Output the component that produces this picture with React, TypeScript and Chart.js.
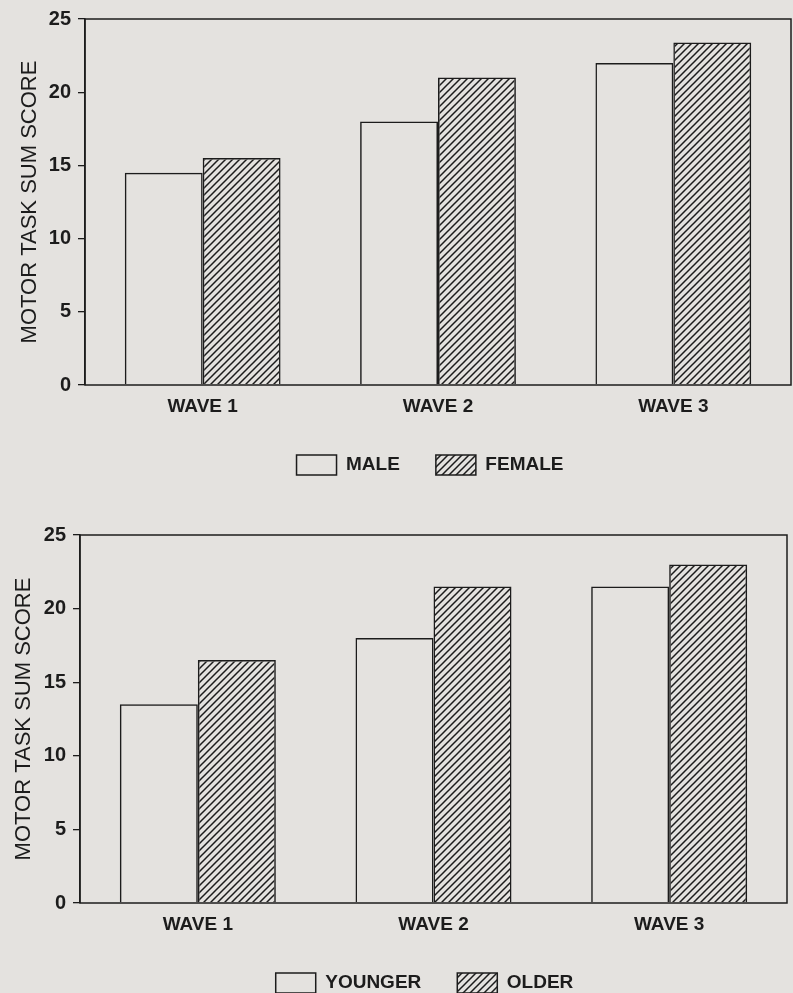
import React, { useEffect, useRef } from "react";
import { Chart, registerables } from "chart.js";

Chart.register(...registerables);

const waves = ["WAVE 1", "WAVE 2", "WAVE 3"];
const maleScores = [14.5, 18, 22];
const femaleScores = [15.5, 21, 23.4];
const youngerScores = [13.5, 18, 21.5];
const olderScores = [16.5, 21.5, 23];
const yTitle = "MOTOR TASK SUM SCORE";
const legend1 = ["MALE", "FEMALE"];
const legend2 = ["YOUNGER", "OLDER"];

const FONT = "'Liberation Sans', Arial, Helvetica, sans-serif";
const INK = "#1c1c1c";
const BG = "#e4e2df";

function makeHatch(): CanvasPattern | string {
  const s = 7;
  const c = document.createElement("canvas");
  c.width = s;
  c.height = s;
  const g = c.getContext("2d");
  if (!g) return INK;
  g.strokeStyle = INK;
  g.lineWidth = 1.5;
  g.beginPath();
  g.moveTo(0, s);
  g.lineTo(s, 0);
  g.moveTo(-2, 2);
  g.lineTo(2, -2);
  g.moveTo(s - 2, s + 2);
  g.lineTo(s + 2, s - 2);
  g.stroke();
  return g.createPattern(c, "repeat") || INK;
}

type Cfg = {
  labels: string[];
  names: string[];
  a: number[];
  b: number[];
  axisWidth: number;
  titlePad: number;
  padTop: number;
  padRight: number;
  xHeight: number;
  legendDx: number;
};

const framePlugin = {
  id: "frame",
  afterDraw(chart: any) {
    const { ctx, chartArea } = chart;
    ctx.save();
    ctx.strokeStyle = INK;
    ctx.lineWidth = 1.5;
    ctx.strokeRect(chartArea.left, chartArea.top, chartArea.right - chartArea.left, chartArea.bottom - chartArea.top);
    ctx.restore();
  },
};

function BarChart({ cfg, height }: { cfg: Cfg; height: number }) {
  const ref = useRef<HTMLCanvasElement | null>(null);
  useEffect(() => {
    if (!ref.current) return;
    const hatch = makeHatch();
    const shiftLegend = {
      id: "shiftLegend",
      afterLayout(chart: any) {
        if (chart.legend) {
          chart.legend.left += cfg.legendDx;
          chart.legend.right += cfg.legendDx;
        }
      },
    };
    const chart = new Chart(ref.current, {
      type: "bar",
      data: {
        labels: cfg.labels,
        datasets: [
          {
            label: cfg.names[0],
            data: cfg.a,
            backgroundColor: "rgba(0,0,0,0)",
            borderColor: INK,
            borderWidth: 1.5,
          },
          {
            label: cfg.names[1],
            data: cfg.b,
            backgroundColor: hatch as any,
            borderColor: INK,
            borderWidth: 1.5,
          },
        ],
      },
      options: {
        responsive: false,
        animation: false,
        devicePixelRatio: 1,
        layout: { padding: { top: cfg.padTop, right: cfg.padRight, left: 0, bottom: 0 } },
        datasets: { bar: { categoryPercentage: 0.662, barPercentage: 1 } },
        scales: {
          x: {
            grid: { display: false, drawTicks: false },
            border: { display: false },
            ticks: { color: INK, font: { family: FONT, size: 19, weight: "bold" }, padding: 10 },
            afterFit: (axis: any) => {
              axis.height = cfg.xHeight;
            },
          },
          y: {
            min: 0,
            max: 25,
            ticks: { stepSize: 5, color: INK, font: { family: FONT, size: 20, weight: "bold" }, padding: 7 },
            grid: { drawOnChartArea: false, drawTicks: true, tickLength: 7, color: INK, lineWidth: 1.3 },
            border: { display: true, color: INK, width: 1.5 },
            title: {
              display: true,
              text: yTitle,
              color: INK,
              font: { family: FONT, size: 22, weight: "normal" },
              padding: { top: cfg.titlePad, bottom: 0 },
            },
            afterFit: (axis: any) => {
              axis.width = cfg.axisWidth;
            },
          },
        },
        plugins: {
          legend: {
            position: "bottom",
            fullSize: false,
            labels: {
              boxWidth: 40,
              boxHeight: 20,
              padding: 36,
              color: INK,
              font: { family: FONT, size: 19, weight: "bold" },
            },
          },
          tooltip: { enabled: false },
        },
      },
      plugins: [framePlugin, shiftLegend],
    } as any);
    return () => chart.destroy();
  }, [cfg, height]);
  return <canvas ref={ref} width={793} height={height} style={{ display: "block", width: 793, height }} />;
}

const cfg1: Cfg = {
  labels: waves,
  names: legend1,
  a: maleScores,
  b: femaleScores,
  axisWidth: 85,
  titlePad: 17,
  padTop: 17,
  padRight: 2,
  xHeight: 34,
  legendDx: -8,
};

const cfg2: Cfg = {
  labels: waves,
  names: legend2,
  a: youngerScores,
  b: olderScores,
  axisWidth: 80,
  titlePad: 11,
  padTop: 45,
  padRight: 6,
  xHeight: 34,
  legendDx: -9,
};

export default function App() {
  useEffect(() => {
    document.body.style.margin = "0";
    document.body.style.background = BG;
  }, []);
  return (
    <div
      style={{
        position: "fixed",
        left: 0,
        top: 0,
        width: 793,
        height: 993,
        overflow: "hidden",
        background: BG,
      }}
    >
      <div style={{ position: "absolute", left: 0, top: 0 }}>
        <BarChart cfg={cfg1} height={485} />
      </div>
      <div style={{ position: "absolute", left: 0, top: 490 }}>
        <BarChart cfg={cfg2} height={513} />
      </div>
    </div>
  );
}
